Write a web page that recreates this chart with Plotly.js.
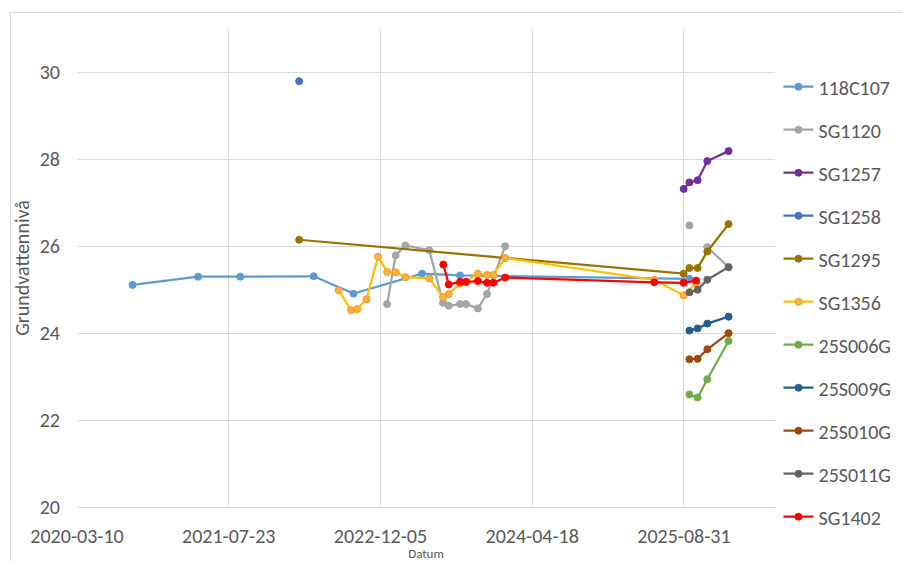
<!DOCTYPE html>
<html>
<head>
<meta charset="utf-8">
<script src="https://cdn.plot.ly/plotly-3.0.1.min.js"></script>
<style>
  html, body { margin: 0; padding: 0; background: #fff; overflow: hidden; }
  #chart { position: absolute; left: 0; top: 0; width: 903px; height: 561px; }
  #frame { position: absolute; left: 10px; top: 12px; width: 1000px; height: 700px;
           border: 1px solid #D9D9D9; pointer-events: none; }
</style>
</head>
<body>
<div id="chart"></div>
<div id="frame"></div>
<script>
// ---- data ----
const seriesNames = ["118C107","SG1120","SG1257","SG1258","SG1295","SG1356","25S006G","25S009G","25S010G","25S011G","SG1402"];

const d118C107 = ["2020-09-09","2021-04-13","2021-08-30","2022-04-29","2022-09-07","2023-04-21","2023-08-24","2025-09-18"];
const v118C107 = [25.11,25.30,25.30,25.31,24.91,25.37,25.33,25.25];

const dSG1120 = ["2022-12-27","2023-01-24","2023-02-25","2023-05-15","2023-06-29","2023-07-18","2023-08-24","2023-09-13","2023-10-22","2023-11-21","2024-01-20","2025-05-25","2025-09-18","2025-10-15","2025-11-16","2026-01-25"];
const vSG1120 = [24.67,25.79,26.02,25.91,24.70,24.63,24.67,24.67,24.57,24.90,26.00,null,26.48,null,25.98,25.52];

const dSG1257 = ["2025-08-30","2025-09-18","2025-10-15","2025-11-16","2026-01-25"];
const vSG1257 = [27.32,27.47,27.52,27.96,28.19];

const dSG1258 = ["2022-03-12"];
const vSG1258 = [29.80];

const dSG1295 = ["2022-03-12","2025-08-30","2025-09-18","2025-10-15","2025-11-16","2026-01-25"];
const vSG1295 = [26.15,25.37,25.50,25.50,25.88,26.51];

const dSG1356 = ["2022-07-20","2022-08-30","2022-09-19","2022-10-20","2022-11-27","2022-12-27","2023-01-24","2023-02-25","2023-05-15","2023-06-29","2023-07-18","2023-08-24","2023-09-13","2023-10-22","2023-11-21","2023-12-12","2024-01-20","2025-05-25","2025-08-30","2025-10-10"];
const vSG1356 = [24.99,24.53,24.55,24.78,25.76,25.41,25.40,25.29,25.26,24.83,24.90,25.14,25.19,25.37,25.34,25.34,25.73,25.23,24.87,25.15];

const d25S = ["2025-09-18","2025-10-15","2025-11-16","2026-01-25"];
const v25S006G = [22.59,22.52,22.94,23.82];
const v25S009G = [24.06,24.11,24.22,24.38];
const v25S010G = [23.40,23.41,23.63,24.00];
const v25S011G = [24.94,25.00,25.23,25.52];

const dSG1402 = ["2023-06-30","2023-07-18","2023-08-24","2023-09-13","2023-10-22","2023-11-21","2023-12-12","2024-01-20","2025-05-25","2025-08-30","2025-10-10"];
const vSG1402 = [25.58,25.12,25.18,25.18,25.20,25.16,25.16,25.28,25.17,25.16,25.21];

const xTickVals = ["2020-03-10","2021-07-23","2022-12-05","2024-04-18","2025-08-31"];
const xTickText = ["2020-03-10","2021-07-23","2022-12-05","2024-04-18","2025-08-31"];
const yTickVals = [20,22,24,26,28,30];

// ---- styling ----
const colors = {
  "118C107":"#5B9BD5","SG1120":"#A5A5A5","SG1257":"#7030A0","SG1258":"#4472C4",
  "SG1295":"#997300","SG1356":"#FFC000","25S006G":"#70AD47","25S009G":"#255E91",
  "25S010G":"#9E480E","25S011G":"#636363","SG1402":"#FF0000"
};
const dataMap = {
  "118C107":[d118C107,v118C107],"SG1120":[dSG1120,vSG1120],"SG1257":[dSG1257,vSG1257],
  "SG1258":[dSG1258,vSG1258],"SG1295":[dSG1295,vSG1295],"SG1356":[dSG1356,vSG1356],
  "25S006G":[d25S,v25S006G],"25S009G":[d25S,v25S009G],"25S010G":[d25S,v25S010G],
  "25S011G":[d25S,v25S011G],"SG1402":[dSG1402,vSG1402]
};

const FONT = "Carlito, 'Liberation Sans Narrow', 'Liberation Sans', sans-serif";
const TXT = "#595959";

const traces = seriesNames.map(function(n){
  const c = colors[n];
  const isYellow = n === "SG1356";
  return {
    type: "scatter",
    mode: "lines+markers",
    name: n,
    legendgroup: n,
    x: dataMap[n][0],
    y: dataMap[n][1],
    connectgaps: false,
    line: { color: c, width: 2.25 },
    marker: {
      size: 7,
      color: isYellow ? "#FBB040" : c,
      line: { color: isYellow ? "#F39A1E" : c, width: 1 }
    }
  };
});

const layout = {
  width: 903, height: 561,
  margin: { l: 77, r: 128, t: 29, b: 54, autoexpand: false },
  paper_bgcolor: "#ffffff",
  plot_bgcolor: "#ffffff",
  font: { family: FONT, color: TXT, size: 20 },
  showlegend: true,
  legend: {
    x: 1.005, xanchor: "left", y: 0.92, yanchor: "top",
    traceorder: "grouped", tracegroupgap: 14,
    font: { family: FONT, color: TXT, size: 20 },
    itemwidth: 30, bgcolor: "rgba(0,0,0,0)"
  },
  xaxis: {
    type: "date",
    range: ["2020-03-10", "2026-06-27"],
    tickmode: "array", tickvals: xTickVals, ticktext: xTickText,
    showgrid: true, gridcolor: "#D9D9D9", gridwidth: 1,
    zeroline: false, showline: true, linecolor: "#D9D9D9", linewidth: 1,
    ticks: "outside", ticklen: 11, tickcolor: "rgba(0,0,0,0)",
    tickfont: { family: FONT, color: TXT, size: 20 },
    title: { text: "Datum", font: { family: FONT, color: TXT, size: 13 }, standoff: 14 }
  },
  yaxis: {
    range: [20, 31],
    tickmode: "array", tickvals: yTickVals,
    showgrid: true, gridcolor: "#D9D9D9", gridwidth: 1,
    zeroline: false, showline: false,
    ticks: "outside", ticklen: 12, tickcolor: "rgba(0,0,0,0)",
    tickfont: { family: FONT, color: TXT, size: 20 },
    title: { text: "Grundvattennivå", font: { family: FONT, color: TXT, size: 20 }, standoff: 4 }
  }
};

Plotly.newPlot("chart", traces, layout, { displayModeBar: false, staticPlot: true });
</script>
</body>
</html>
